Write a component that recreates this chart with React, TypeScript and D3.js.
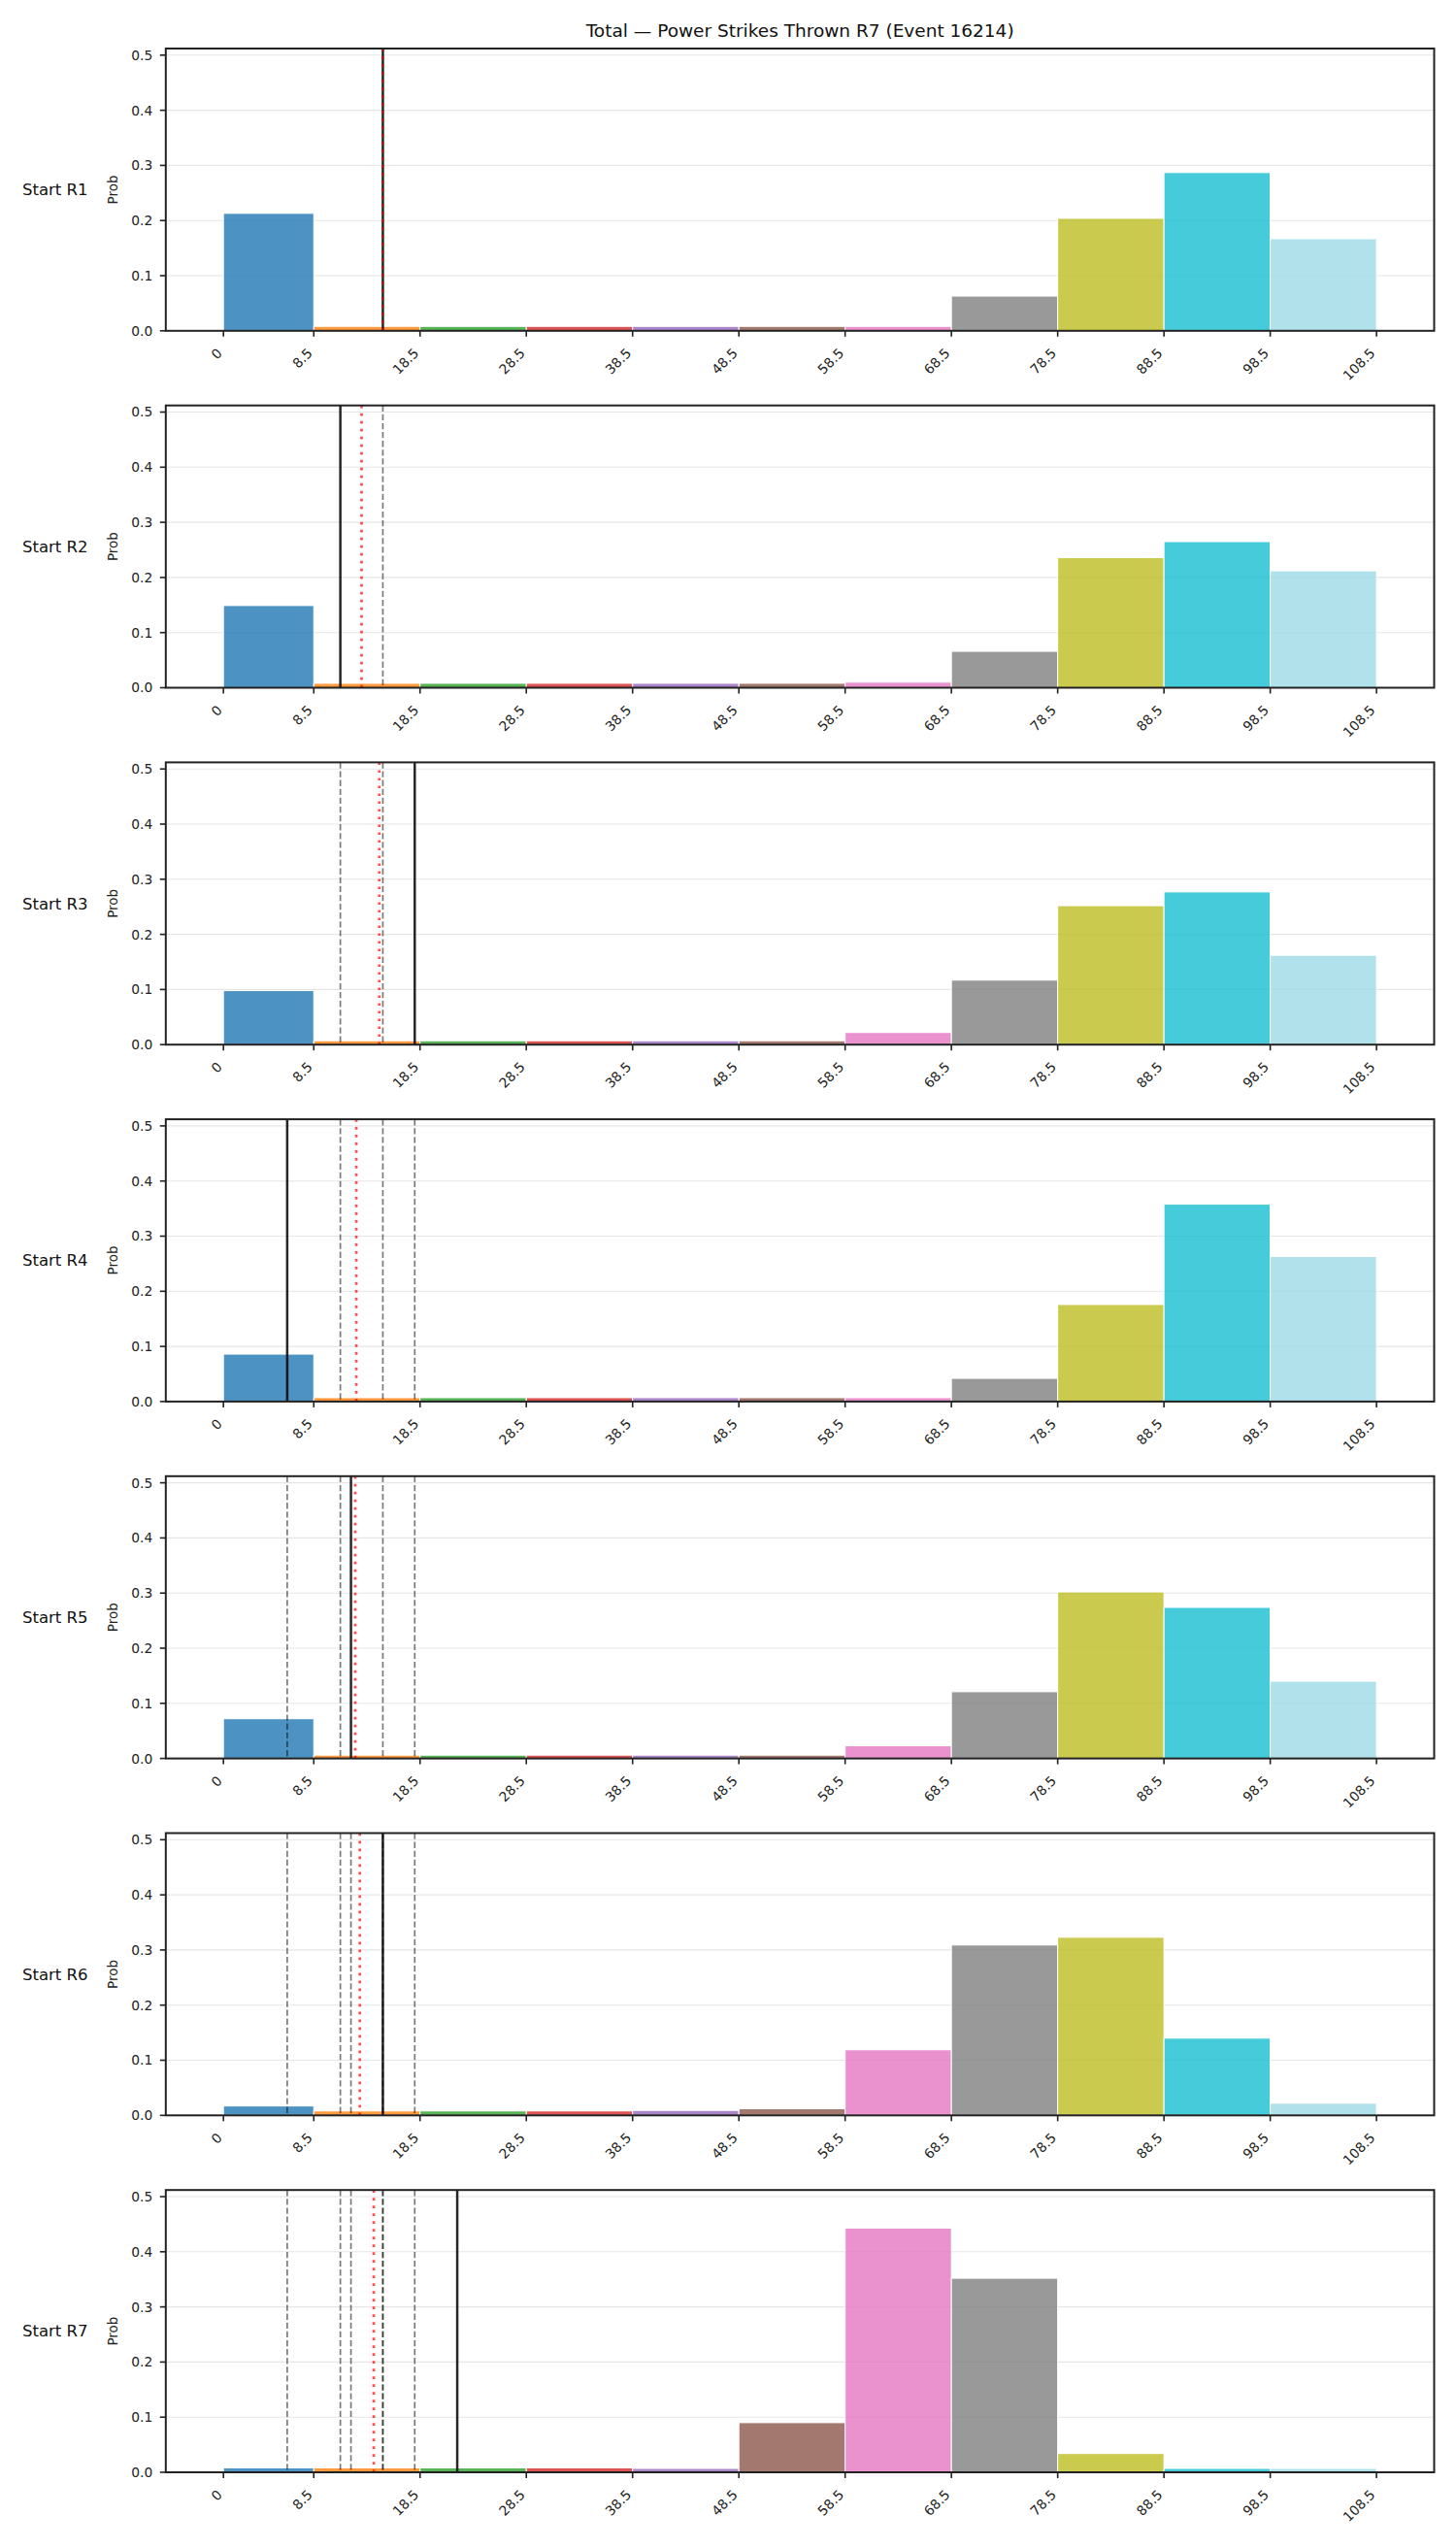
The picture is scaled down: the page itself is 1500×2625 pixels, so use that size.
import React from "react";
import * as d3 from "d3";

// Histogram bin edges (shared by every round) and their tick labels
const binEdges = [0, 8.5, 18.5, 28.5, 38.5, 48.5, 58.5, 68.5, 78.5, 88.5, 98.5, 108.5];
const tickLabels = ["0", "8.5", "18.5", "28.5", "38.5", "48.5", "58.5", "68.5", "78.5", "88.5", "98.5", "108.5"];
const yTicks = [0, 0.1, 0.2, 0.3, 0.4, 0.5];

const roundLabels = ["Start R1", "Start R2", "Start R3", "Start R4", "Start R5", "Start R6", "Start R7"];

// Probability per bin for each starting round
const probR1 = [0.213, 0.008, 0.008, 0.008, 0.008, 0.008, 0.008, 0.063, 0.204, 0.287, 0.167];
const probR2 = [0.149, 0.008, 0.008, 0.008, 0.008, 0.008, 0.010, 0.066, 0.236, 0.265, 0.212];
const probR3 = [0.098, 0.007, 0.007, 0.007, 0.007, 0.007, 0.022, 0.117, 0.252, 0.277, 0.162];
const probR4 = [0.086, 0.007, 0.007, 0.007, 0.007, 0.007, 0.007, 0.042, 0.176, 0.358, 0.263];
const probR5 = [0.072, 0.006, 0.006, 0.006, 0.006, 0.006, 0.023, 0.121, 0.302, 0.274, 0.140];
const probR6 = [0.017, 0.008, 0.008, 0.008, 0.009, 0.012, 0.119, 0.309, 0.323, 0.140, 0.022];
const probR7 = [0.008, 0.008, 0.008, 0.008, 0.007, 0.090, 0.443, 0.352, 0.034, 0.007, 0.007];
const probs = [probR1, probR2, probR3, probR4, probR5, probR6, probR7];

// Power strikes actually thrown in each round
const roundTotals = [15, 11, 18, 6, 12, 15, 22];

const binColors = [
  "#1f77b4", "#ff7f0e", "#2ca02c", "#d62728", "#9467bd", "#8c564b",
  "#e377c2", "#7f7f7f", "#bcbd22", "#17becf", "#9edae5",
];

const W = 1500;
const H = 2625;
const left = 170.8;
const right = 1477.5;
const top0 = 50;
const step = 367.7;
const panelH = 290.8;
const yMax = 0.512;

const FONT = "DejaVu Sans, sans-serif";
const TICK_FS = 13.8;

const x = d3
  .scaleLinear()
  .domain([-0.05 * 108.5, 108.5 * 1.05])
  .range([left, right]);

function Panel({ idx }: { idx: number }) {
  const top = top0 + idx * step;
  const bottom = top + panelH;
  const y = d3.scaleLinear().domain([0, yMax]).range([bottom, top]);
  const values = probs[idx];
  const previous = roundTotals.slice(0, idx);
  const current = roundTotals[idx];
  const runningMean = d3.mean(roundTotals.slice(0, idx + 1)) as number;
  const cy = (top + bottom) / 2;

  return (
    <g>
      {/* horizontal grid */}
      {yTicks.map((t) => (
        <line key={"g" + t} x1={left} x2={right} y1={y(t)} y2={y(t)} stroke="#e6e6e6" strokeWidth={1.1} />
      ))}
      {/* histogram bars */}
      {values.map((v, i) => (
        <rect
          key={"b" + i}
          x={x(binEdges[i])}
          y={y(v)}
          width={x(binEdges[i + 1]) - x(binEdges[i])}
          height={y(0) - y(v)}
          fill={binColors[i]}
          fillOpacity={0.8}
          stroke="#ffffff"
          strokeWidth={1}
        />
      ))}
      {/* earlier rounds */}
      {previous.map((v, i) => (
        <line
          key={"p" + i}
          x1={x(v)}
          x2={x(v)}
          y1={top}
          y2={bottom}
          stroke="#000"
          strokeOpacity={0.52}
          strokeWidth={1.7}
          strokeDasharray="6.3 2.8"
        />
      ))}
      {/* this round */}
      <line x1={x(current)} x2={x(current)} y1={top} y2={bottom} stroke="#000" strokeOpacity={0.85} strokeWidth={2.5} />
      {/* running mean */}
      <line
        x1={x(runningMean)}
        x2={x(runningMean)}
        y1={top}
        y2={bottom}
        stroke="#ff0000"
        strokeOpacity={0.7}
        strokeWidth={2.7}
        strokeDasharray="2.7 5.3"
      />
      {/* frame */}
      <rect x={left} y={top} width={right - left} height={panelH} fill="none" stroke="#222" strokeWidth={2} />
      {/* y axis */}
      {yTicks.map((t) => (
        <g key={"y" + t}>
          <line x1={left - 6} x2={left} y1={y(t)} y2={y(t)} stroke="#222" strokeWidth={1.6} />
          <text x={left - 13.5} y={y(t)} dy="0.36em" textAnchor="end" fontSize={TICK_FS} fontFamily={FONT} fill="#222">
            {t.toFixed(1)}
          </text>
        </g>
      ))}
      {/* x axis */}
      {binEdges.map((e, i) => (
        <g key={"x" + i}>
          <line x1={x(e)} x2={x(e)} y1={bottom} y2={bottom + 6} stroke="#222" strokeWidth={1.6} />
          <text
            transform={`translate(${x(e) - 4},${bottom + 20.5}) rotate(-45)`}
            textAnchor="end"
            dy="0.35em"
            fontSize={TICK_FS}
            fontFamily={FONT}
            fill="#222"
          >
            {tickLabels[i]}
          </text>
        </g>
      ))}
      <text
        transform={`translate(${116},${cy}) rotate(-90)`}
        textAnchor="middle"
        dy="0.35em"
        fontSize={13.5}
        fontFamily={FONT}
        fill="#222"
      >
        Prob
      </text>
      <text x={23} y={cy} dy="0.35em" fontSize={16.5} fontFamily={FONT} fill="#111">
        {roundLabels[idx]}
      </text>
    </g>
  );
}

export default function App() {
  return (
    <svg
      width={W}
      height={H}
      viewBox={`0 0 ${W} ${H}`}
      style={{ position: "absolute", left: 0, top: 0, background: "#fff" }}
    >
      <rect x={0} y={0} width={W} height={H} fill="#fff" />
      <text x={(left + right) / 2} y={38} textAnchor="middle" fontSize={18.5} fontFamily={FONT} fill="#111">
        Total — Power Strikes Thrown R7 (Event 16214)
      </text>
      {probs.map((_, i) => (
        <Panel key={i} idx={i} />
      ))}
    </svg>
  );
}
